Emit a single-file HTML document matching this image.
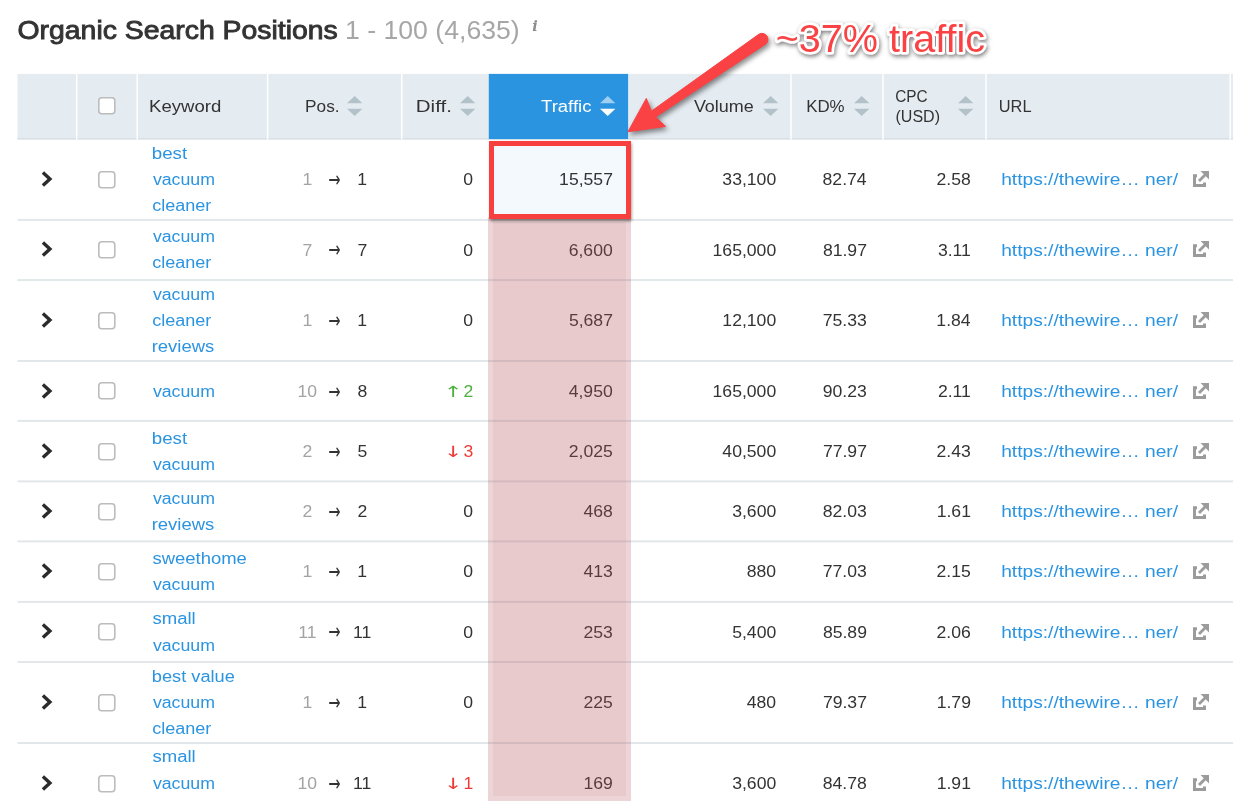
<!DOCTYPE html><html lang="en"><head><meta charset="utf-8"><title>Organic Search Positions</title><style>
*{box-sizing:border-box;margin:0;padding:0}
html,body{width:1233px;height:808px;overflow:hidden;background:#fff}
body{position:relative;font-family:"Liberation Sans",sans-serif;font-size:16px;color:#333;}
.abs{position:absolute}
.t{position:absolute;white-space:nowrap;line-height:20px;height:20px;transform-origin:0 0;display:block}
a{color:#2b94e1;text-decoration:none}
.g{color:#a3a3a3}
.up{color:#4bb03c}.down{color:#ee3a36}
.ar{font-family:"DejaVu Sans","Liberation Sans",sans-serif}
svg{position:absolute;overflow:visible}
.thead,.tr{position:absolute;left:0;top:0;width:0;height:0}
</style></head><body>
<h1 class="t" style="left:0;top:0;transform:translate(17.49px,15.00px) scaleX(1.0917);font-size:26px;line-height:30px;height:30px;color:#333;font-weight:normal;-webkit-text-stroke:0.9px #333;">Organic Search Positions</h1>
<div class="t" style="left:0;top:0;transform:translate(344.95px,15.00px) scaleX(1.0246);font-size:26px;line-height:30px;height:30px;color:#a6a6a6;">1 - 100 (4,635)</div>
<div class="t" style="left:532.2px;top:15.6px;font-size:14.5px;color:#8c8c8c;font-style:italic;font-family:'DejaVu Serif','Liberation Serif',serif;font-weight:bold">i</div>
<div class="thead"><svg style="left:0;top:0" width="1233" height="808" viewBox="0 0 1233 808"><rect x="17.5" y="73.9" width="1216" height="65.4" fill="#e4ebf1"/><rect x="17.5" y="138.3" width="1216" height="1.2" fill="#d3dbe1"/><rect x="75.95" y="73.5" width="1.5" height="66" fill="#fff"/><rect x="136.45" y="73.5" width="1.5" height="66" fill="#fff"/><rect x="266.85" y="73.5" width="1.5" height="66" fill="#fff"/><rect x="400.95" y="73.5" width="1.5" height="66" fill="#fff"/><rect x="790.25" y="73.5" width="1.5" height="66" fill="#fff"/><rect x="882.25" y="73.5" width="1.5" height="66" fill="#fff"/><rect x="985.25" y="73.5" width="1.5" height="66" fill="#fff"/><rect x="1229.45" y="73.5" width="1.5" height="66" fill="#fff"/><rect x="488.8" y="73.9" width="139.3" height="65.2" fill="#2b94e1"/></svg>
<svg style="left:98.2px;top:97.3px" width="17.6" height="17.6" viewBox="0 0 17.6 17.6"><rect x=".8" y=".8" width="16" height="16" rx="3" fill="#fff" stroke="#bcbcbc" stroke-width="1.6"/></svg>
<div class="t" style="left:0;top:0;transform:translate(149.09px,96.70px) scaleX(1.1583);">Keyword</div>
<div class="t" style="left:0;top:0;transform:translate(305.10px,96.70px) scaleX(1.0751);">Pos.</div><svg style="left:347px;top:96px" width="15.4" height="20" viewBox="0 0 15.4 20"><path d="M7.7 0 L15.4 7.2 L0 7.2 Z" fill="#b3c2c9"/><path d="M0 12.8 L15.4 12.8 L7.7 20 Z" fill="#b3c2c9"/></svg>
<div class="t" style="left:0;top:0;transform:translate(415.84px,96.70px) scaleX(1.2795);">Diff.</div><svg style="left:459.5px;top:96px" width="15.4" height="20" viewBox="0 0 15.4 20"><path d="M7.7 0 L15.4 7.2 L0 7.2 Z" fill="#b3c2c9"/><path d="M0 12.8 L15.4 12.8 L7.7 20 Z" fill="#b3c2c9"/></svg>
<div class="t" style="left:0;top:0;transform:translate(541.04px,96.70px) scaleX(1.1565);color:#fff;">Traffic</div><svg style="left:600px;top:96px" width="15.4" height="20" viewBox="0 0 15.4 20"><path d="M7.7 0 L15.4 7.2 L0 7.2 Z" fill="rgba(255,255,255,.55)"/><path d="M0 12.8 L15.4 12.8 L7.7 20 Z" fill="#fff"/></svg>
<div class="t" style="left:0;top:0;transform:translate(693.89px,96.70px) scaleX(1.1217);">Volume</div><svg style="left:762.5px;top:96px" width="15.4" height="20" viewBox="0 0 15.4 20"><path d="M7.7 0 L15.4 7.2 L0 7.2 Z" fill="#b3c2c9"/><path d="M0 12.8 L15.4 12.8 L7.7 20 Z" fill="#b3c2c9"/></svg>
<div class="t" style="left:0;top:0;transform:translate(806.13px,96.70px) scaleX(1.0549);">KD%</div><svg style="left:854px;top:96px" width="15.4" height="20" viewBox="0 0 15.4 20"><path d="M7.7 0 L15.4 7.2 L0 7.2 Z" fill="#b3c2c9"/><path d="M0 12.8 L15.4 12.8 L7.7 20 Z" fill="#b3c2c9"/></svg>
<div class="t" style="left:0;top:0;transform:translate(895.23px,86.60px) scaleX(0.9598);">CPC</div><div class="t" style="left:0;top:0;transform:translate(895.50px,106.60px) scaleX(1.0024);">(USD)</div><svg style="left:957.5px;top:96px" width="15.4" height="20" viewBox="0 0 15.4 20"><path d="M7.7 0 L15.4 7.2 L0 7.2 Z" fill="#b3c2c9"/><path d="M0 12.8 L15.4 12.8 L7.7 20 Z" fill="#b3c2c9"/></svg>
<div class="t" style="left:0;top:0;transform:translate(998.77px,96.70px) scaleX(1.0231);">URL</div>
</div>
<div class="tr">
<svg style="left:41.4px;top:171.00px" width="12" height="16" viewBox="0 0 12 16"><path d="M1.9 1.5 L8.9 8 L1.9 14.5" fill="none" stroke="#2b2b2b" stroke-width="3.4"/></svg>
<svg style="left:98.2px;top:170.80px" width="17.6" height="17.6" viewBox="0 0 17.6 17.6"><rect x=".8" y=".8" width="16" height="16" rx="3" fill="#fff" stroke="#bcbcbc" stroke-width="1.6"/></svg>
<a class="t" style="left:0;top:0;transform:translate(151.83px,143.70px) scaleX(1.1684);">best</a>
<a class="t" style="left:0;top:0;transform:translate(152.89px,170.00px) scaleX(1.1066);">vacuum</a>
<a class="t" style="left:0;top:0;transform:translate(152.21px,196.30px) scaleX(1.1262);">cleaner</a>
<div class="t g" style="left:0;top:0;transform:translate(302.38px,170.30px) scaleX(1.1000);">1</div>
<div class="t ar" style="left:327.7px;top:168.90px;font-size:15px;transform-origin:50% 50%;transform:scale(.97,1.5)">&rarr;</div>
<div class="t" style="left:0;top:0;transform:translate(357.19px,170.30px) scaleX(1.1000);">1</div>
<div class="t" style="left:0;top:0;transform:translate(463.37px,170.30px) scaleX(1.1000);">0</div>
<div class="t" style="left:0;top:0;transform:translate(722.37px,170.30px) scaleX(1.1000);">33,100</div>
<div class="t" style="left:0;top:0;transform:translate(822.55px,170.30px) scaleX(1.1000);">82.74</div>
<div class="t" style="left:0;top:0;transform:translate(936.56px,170.30px) scaleX(1.1000);">2.58</div>
<a class="t" style="left:0;top:0;transform:translate(1001.18px,170.30px) scaleX(1.1980);">https://thewire… ner/</a>
<svg style="left:1193px;top:171.10px" width="16" height="16" viewBox="0 0 16 16"><path d="M4 4.7 H1.5 V14.4 H11.5 V11.6" fill="none" stroke="#9b9b9b" stroke-width="3"/><path d="M7.6 0 H16 V8.4 Z" fill="#9b9b9b"/><path d="M13 3 L6 10" stroke="#9b9b9b" stroke-width="2.9" fill="none"/></svg>
</div>
<div class="tr">
<svg style="left:41.4px;top:241.25px" width="12" height="16" viewBox="0 0 12 16"><path d="M1.9 1.5 L8.9 8 L1.9 14.5" fill="none" stroke="#2b2b2b" stroke-width="3.4"/></svg>
<svg style="left:98.2px;top:241.05px" width="17.6" height="17.6" viewBox="0 0 17.6 17.6"><rect x=".8" y=".8" width="16" height="16" rx="3" fill="#fff" stroke="#bcbcbc" stroke-width="1.6"/></svg>
<a class="t" style="left:0;top:0;transform:translate(152.89px,227.10px) scaleX(1.1066);">vacuum</a>
<a class="t" style="left:0;top:0;transform:translate(152.21px,253.40px) scaleX(1.1262);">cleaner</a>
<div class="t g" style="left:0;top:0;transform:translate(302.61px,240.55px) scaleX(1.1000);">7</div>
<div class="t ar" style="left:327.7px;top:239.15px;font-size:15px;transform-origin:50% 50%;transform:scale(.97,1.5)">&rarr;</div>
<div class="t" style="left:0;top:0;transform:translate(357.41px,240.55px) scaleX(1.1000);">7</div>
<div class="t" style="left:0;top:0;transform:translate(463.37px,240.55px) scaleX(1.1000);">0</div>
<div class="t" style="left:0;top:0;transform:translate(568.66px,240.55px) scaleX(1.1000);">6,600</div>
<div class="t" style="left:0;top:0;transform:translate(712.58px,240.55px) scaleX(1.1000);">165,000</div>
<div class="t" style="left:0;top:0;transform:translate(822.88px,240.55px) scaleX(1.1000);">81.97</div>
<div class="t" style="left:0;top:0;transform:translate(937.88px,240.55px) scaleX(1.1000);">3.11</div>
<a class="t" style="left:0;top:0;transform:translate(1001.18px,240.55px) scaleX(1.1980);">https://thewire… ner/</a>
<svg style="left:1193px;top:241.35px" width="16" height="16" viewBox="0 0 16 16"><path d="M4 4.7 H1.5 V14.4 H11.5 V11.6" fill="none" stroke="#9b9b9b" stroke-width="3"/><path d="M7.6 0 H16 V8.4 Z" fill="#9b9b9b"/><path d="M13 3 L6 10" stroke="#9b9b9b" stroke-width="2.9" fill="none"/></svg>
</div>
<div class="tr">
<svg style="left:41.4px;top:312.00px" width="12" height="16" viewBox="0 0 12 16"><path d="M1.9 1.5 L8.9 8 L1.9 14.5" fill="none" stroke="#2b2b2b" stroke-width="3.4"/></svg>
<svg style="left:98.2px;top:311.80px" width="17.6" height="17.6" viewBox="0 0 17.6 17.6"><rect x=".8" y=".8" width="16" height="16" rx="3" fill="#fff" stroke="#bcbcbc" stroke-width="1.6"/></svg>
<a class="t" style="left:0;top:0;transform:translate(152.89px,284.70px) scaleX(1.1066);">vacuum</a>
<a class="t" style="left:0;top:0;transform:translate(152.21px,311.00px) scaleX(1.1262);">cleaner</a>
<a class="t" style="left:0;top:0;transform:translate(151.73px,337.30px) scaleX(1.1524);">reviews</a>
<div class="t g" style="left:0;top:0;transform:translate(302.38px,311.30px) scaleX(1.1000);">1</div>
<div class="t ar" style="left:327.7px;top:309.90px;font-size:15px;transform-origin:50% 50%;transform:scale(.97,1.5)">&rarr;</div>
<div class="t" style="left:0;top:0;transform:translate(357.19px,311.30px) scaleX(1.1000);">1</div>
<div class="t" style="left:0;top:0;transform:translate(463.37px,311.30px) scaleX(1.1000);">0</div>
<div class="t" style="left:0;top:0;transform:translate(568.88px,311.30px) scaleX(1.1000);">5,687</div>
<div class="t" style="left:0;top:0;transform:translate(722.37px,311.30px) scaleX(1.1000);">12,100</div>
<div class="t" style="left:0;top:0;transform:translate(822.77px,311.30px) scaleX(1.1000);">75.33</div>
<div class="t" style="left:0;top:0;transform:translate(936.34px,311.30px) scaleX(1.1000);">1.84</div>
<a class="t" style="left:0;top:0;transform:translate(1001.18px,311.30px) scaleX(1.1980);">https://thewire… ner/</a>
<svg style="left:1193px;top:312.10px" width="16" height="16" viewBox="0 0 16 16"><path d="M4 4.7 H1.5 V14.4 H11.5 V11.6" fill="none" stroke="#9b9b9b" stroke-width="3"/><path d="M7.6 0 H16 V8.4 Z" fill="#9b9b9b"/><path d="M13 3 L6 10" stroke="#9b9b9b" stroke-width="2.9" fill="none"/></svg>
</div>
<div class="tr">
<svg style="left:41.4px;top:382.62px" width="12" height="16" viewBox="0 0 12 16"><path d="M1.9 1.5 L8.9 8 L1.9 14.5" fill="none" stroke="#2b2b2b" stroke-width="3.4"/></svg>
<svg style="left:98.2px;top:382.43px" width="17.6" height="17.6" viewBox="0 0 17.6 17.6"><rect x=".8" y=".8" width="16" height="16" rx="3" fill="#fff" stroke="#bcbcbc" stroke-width="1.6"/></svg>
<a class="t" style="left:0;top:0;transform:translate(152.89px,381.62px) scaleX(1.1066);">vacuum</a>
<div class="t g" style="left:0;top:0;transform:translate(297.38px,381.93px) scaleX(1.1000);">10</div>
<div class="t ar" style="left:327.7px;top:380.53px;font-size:15px;transform-origin:50% 50%;transform:scale(.97,1.5)">&rarr;</div>
<div class="t" style="left:0;top:0;transform:translate(357.41px,381.93px) scaleX(1.1000);">8</div>
<div class="t ar up" style="left:446.8px;top:381.62px;font-size:15px;transform-origin:50% 50%;transform:scale(1.5,1.03)">&uarr;</div>
<div class="t up" style="left:0;top:0;transform:translate(463.59px,381.93px) scaleX(1.1000);">2</div>
<div class="t" style="left:0;top:0;transform:translate(568.66px,381.93px) scaleX(1.1000);">4,950</div>
<div class="t" style="left:0;top:0;transform:translate(712.58px,381.93px) scaleX(1.1000);">165,000</div>
<div class="t" style="left:0;top:0;transform:translate(822.77px,381.93px) scaleX(1.1000);">90.23</div>
<div class="t" style="left:0;top:0;transform:translate(937.88px,381.93px) scaleX(1.1000);">2.11</div>
<a class="t" style="left:0;top:0;transform:translate(1001.18px,381.93px) scaleX(1.1980);">https://thewire… ner/</a>
<svg style="left:1193px;top:382.73px" width="16" height="16" viewBox="0 0 16 16"><path d="M4 4.7 H1.5 V14.4 H11.5 V11.6" fill="none" stroke="#9b9b9b" stroke-width="3"/><path d="M7.6 0 H16 V8.4 Z" fill="#9b9b9b"/><path d="M13 3 L6 10" stroke="#9b9b9b" stroke-width="2.9" fill="none"/></svg>
</div>
<div class="tr">
<svg style="left:41.4px;top:442.75px" width="12" height="16" viewBox="0 0 12 16"><path d="M1.9 1.5 L8.9 8 L1.9 14.5" fill="none" stroke="#2b2b2b" stroke-width="3.4"/></svg>
<svg style="left:98.2px;top:442.55px" width="17.6" height="17.6" viewBox="0 0 17.6 17.6"><rect x=".8" y=".8" width="16" height="16" rx="3" fill="#fff" stroke="#bcbcbc" stroke-width="1.6"/></svg>
<a class="t" style="left:0;top:0;transform:translate(151.83px,428.60px) scaleX(1.1684);">best</a>
<a class="t" style="left:0;top:0;transform:translate(152.89px,454.90px) scaleX(1.1066);">vacuum</a>
<div class="t g" style="left:0;top:0;transform:translate(302.61px,442.05px) scaleX(1.1000);">2</div>
<div class="t ar" style="left:327.7px;top:440.65px;font-size:15px;transform-origin:50% 50%;transform:scale(.97,1.5)">&rarr;</div>
<div class="t" style="left:0;top:0;transform:translate(357.41px,442.05px) scaleX(1.1000);">5</div>
<div class="t ar down" style="left:446.8px;top:441.75px;font-size:15px;transform-origin:50% 50%;transform:scale(1.5,1.03)">&darr;</div>
<div class="t down" style="left:0;top:0;transform:translate(463.48px,442.05px) scaleX(1.1000);">3</div>
<div class="t" style="left:0;top:0;transform:translate(568.77px,442.05px) scaleX(1.1000);">2,025</div>
<div class="t" style="left:0;top:0;transform:translate(722.37px,442.05px) scaleX(1.1000);">40,500</div>
<div class="t" style="left:0;top:0;transform:translate(822.88px,442.05px) scaleX(1.1000);">77.97</div>
<div class="t" style="left:0;top:0;transform:translate(936.56px,442.05px) scaleX(1.1000);">2.43</div>
<a class="t" style="left:0;top:0;transform:translate(1001.18px,442.05px) scaleX(1.1980);">https://thewire… ner/</a>
<svg style="left:1193px;top:442.85px" width="16" height="16" viewBox="0 0 16 16"><path d="M4 4.7 H1.5 V14.4 H11.5 V11.6" fill="none" stroke="#9b9b9b" stroke-width="3"/><path d="M7.6 0 H16 V8.4 Z" fill="#9b9b9b"/><path d="M13 3 L6 10" stroke="#9b9b9b" stroke-width="2.9" fill="none"/></svg>
</div>
<div class="tr">
<svg style="left:41.4px;top:502.75px" width="12" height="16" viewBox="0 0 12 16"><path d="M1.9 1.5 L8.9 8 L1.9 14.5" fill="none" stroke="#2b2b2b" stroke-width="3.4"/></svg>
<svg style="left:98.2px;top:502.55px" width="17.6" height="17.6" viewBox="0 0 17.6 17.6"><rect x=".8" y=".8" width="16" height="16" rx="3" fill="#fff" stroke="#bcbcbc" stroke-width="1.6"/></svg>
<a class="t" style="left:0;top:0;transform:translate(152.89px,488.60px) scaleX(1.1066);">vacuum</a>
<a class="t" style="left:0;top:0;transform:translate(151.73px,514.90px) scaleX(1.1524);">reviews</a>
<div class="t g" style="left:0;top:0;transform:translate(302.61px,502.05px) scaleX(1.1000);">2</div>
<div class="t ar" style="left:327.7px;top:500.65px;font-size:15px;transform-origin:50% 50%;transform:scale(.97,1.5)">&rarr;</div>
<div class="t" style="left:0;top:0;transform:translate(357.41px,502.05px) scaleX(1.1000);">2</div>
<div class="t" style="left:0;top:0;transform:translate(463.37px,502.05px) scaleX(1.1000);">0</div>
<div class="t" style="left:0;top:0;transform:translate(583.40px,502.05px) scaleX(1.1000);">468</div>
<div class="t" style="left:0;top:0;transform:translate(732.16px,502.05px) scaleX(1.1000);">3,600</div>
<div class="t" style="left:0;top:0;transform:translate(822.77px,502.05px) scaleX(1.1000);">82.03</div>
<div class="t" style="left:0;top:0;transform:translate(936.67px,502.05px) scaleX(1.1000);">1.61</div>
<a class="t" style="left:0;top:0;transform:translate(1001.18px,502.05px) scaleX(1.1980);">https://thewire… ner/</a>
<svg style="left:1193px;top:502.85px" width="16" height="16" viewBox="0 0 16 16"><path d="M4 4.7 H1.5 V14.4 H11.5 V11.6" fill="none" stroke="#9b9b9b" stroke-width="3"/><path d="M7.6 0 H16 V8.4 Z" fill="#9b9b9b"/><path d="M13 3 L6 10" stroke="#9b9b9b" stroke-width="2.9" fill="none"/></svg>
</div>
<div class="tr">
<svg style="left:41.4px;top:562.92px" width="12" height="16" viewBox="0 0 12 16"><path d="M1.9 1.5 L8.9 8 L1.9 14.5" fill="none" stroke="#2b2b2b" stroke-width="3.4"/></svg>
<svg style="left:98.2px;top:562.72px" width="17.6" height="17.6" viewBox="0 0 17.6 17.6"><rect x=".8" y=".8" width="16" height="16" rx="3" fill="#fff" stroke="#bcbcbc" stroke-width="1.6"/></svg>
<a class="t" style="left:0;top:0;transform:translate(152.42px,548.77px) scaleX(1.1538);">sweethome</a>
<a class="t" style="left:0;top:0;transform:translate(152.89px,575.07px) scaleX(1.1066);">vacuum</a>
<div class="t g" style="left:0;top:0;transform:translate(302.38px,562.22px) scaleX(1.1000);">1</div>
<div class="t ar" style="left:327.7px;top:560.82px;font-size:15px;transform-origin:50% 50%;transform:scale(.97,1.5)">&rarr;</div>
<div class="t" style="left:0;top:0;transform:translate(357.19px,562.22px) scaleX(1.1000);">1</div>
<div class="t" style="left:0;top:0;transform:translate(463.37px,562.22px) scaleX(1.1000);">0</div>
<div class="t" style="left:0;top:0;transform:translate(583.40px,562.22px) scaleX(1.1000);">413</div>
<div class="t" style="left:0;top:0;transform:translate(746.79px,562.22px) scaleX(1.1000);">880</div>
<div class="t" style="left:0;top:0;transform:translate(822.77px,562.22px) scaleX(1.1000);">77.03</div>
<div class="t" style="left:0;top:0;transform:translate(936.56px,562.22px) scaleX(1.1000);">2.15</div>
<a class="t" style="left:0;top:0;transform:translate(1001.18px,562.22px) scaleX(1.1980);">https://thewire… ner/</a>
<svg style="left:1193px;top:563.02px" width="16" height="16" viewBox="0 0 16 16"><path d="M4 4.7 H1.5 V14.4 H11.5 V11.6" fill="none" stroke="#9b9b9b" stroke-width="3"/><path d="M7.6 0 H16 V8.4 Z" fill="#9b9b9b"/><path d="M13 3 L6 10" stroke="#9b9b9b" stroke-width="2.9" fill="none"/></svg>
</div>
<div class="tr">
<svg style="left:41.4px;top:623.40px" width="12" height="16" viewBox="0 0 12 16"><path d="M1.9 1.5 L8.9 8 L1.9 14.5" fill="none" stroke="#2b2b2b" stroke-width="3.4"/></svg>
<svg style="left:98.2px;top:623.20px" width="17.6" height="17.6" viewBox="0 0 17.6 17.6"><rect x=".8" y=".8" width="16" height="16" rx="3" fill="#fff" stroke="#bcbcbc" stroke-width="1.6"/></svg>
<a class="t" style="left:0;top:0;transform:translate(152.42px,609.25px) scaleX(1.1592);">small</a>
<a class="t" style="left:0;top:0;transform:translate(152.89px,635.55px) scaleX(1.1066);">vacuum</a>
<div class="t g" style="left:0;top:0;transform:translate(298.15px,622.70px) scaleX(1.1000);">11</div>
<div class="t ar" style="left:327.7px;top:621.30px;font-size:15px;transform-origin:50% 50%;transform:scale(.97,1.5)">&rarr;</div>
<div class="t" style="left:0;top:0;transform:translate(352.95px,622.70px) scaleX(1.1000);">11</div>
<div class="t" style="left:0;top:0;transform:translate(463.37px,622.70px) scaleX(1.1000);">0</div>
<div class="t" style="left:0;top:0;transform:translate(583.40px,622.70px) scaleX(1.1000);">253</div>
<div class="t" style="left:0;top:0;transform:translate(732.16px,622.70px) scaleX(1.1000);">5,400</div>
<div class="t" style="left:0;top:0;transform:translate(822.88px,622.70px) scaleX(1.1000);">85.89</div>
<div class="t" style="left:0;top:0;transform:translate(936.56px,622.70px) scaleX(1.1000);">2.06</div>
<a class="t" style="left:0;top:0;transform:translate(1001.18px,622.70px) scaleX(1.1980);">https://thewire… ner/</a>
<svg style="left:1193px;top:623.50px" width="16" height="16" viewBox="0 0 16 16"><path d="M4 4.7 H1.5 V14.4 H11.5 V11.6" fill="none" stroke="#9b9b9b" stroke-width="3"/><path d="M7.6 0 H16 V8.4 Z" fill="#9b9b9b"/><path d="M13 3 L6 10" stroke="#9b9b9b" stroke-width="2.9" fill="none"/></svg>
</div>
<div class="tr">
<svg style="left:41.4px;top:694.10px" width="12" height="16" viewBox="0 0 12 16"><path d="M1.9 1.5 L8.9 8 L1.9 14.5" fill="none" stroke="#2b2b2b" stroke-width="3.4"/></svg>
<svg style="left:98.2px;top:693.90px" width="17.6" height="17.6" viewBox="0 0 17.6 17.6"><rect x=".8" y=".8" width="16" height="16" rx="3" fill="#fff" stroke="#bcbcbc" stroke-width="1.6"/></svg>
<a class="t" style="left:0;top:0;transform:translate(151.86px,666.80px) scaleX(1.1376);">best value</a>
<a class="t" style="left:0;top:0;transform:translate(152.89px,693.10px) scaleX(1.1066);">vacuum</a>
<a class="t" style="left:0;top:0;transform:translate(152.21px,719.40px) scaleX(1.1262);">cleaner</a>
<div class="t g" style="left:0;top:0;transform:translate(302.38px,693.40px) scaleX(1.1000);">1</div>
<div class="t ar" style="left:327.7px;top:692.00px;font-size:15px;transform-origin:50% 50%;transform:scale(.97,1.5)">&rarr;</div>
<div class="t" style="left:0;top:0;transform:translate(357.19px,693.40px) scaleX(1.1000);">1</div>
<div class="t" style="left:0;top:0;transform:translate(463.37px,693.40px) scaleX(1.1000);">0</div>
<div class="t" style="left:0;top:0;transform:translate(583.40px,693.40px) scaleX(1.1000);">225</div>
<div class="t" style="left:0;top:0;transform:translate(746.79px,693.40px) scaleX(1.1000);">480</div>
<div class="t" style="left:0;top:0;transform:translate(822.88px,693.40px) scaleX(1.1000);">79.37</div>
<div class="t" style="left:0;top:0;transform:translate(936.67px,693.40px) scaleX(1.1000);">1.79</div>
<a class="t" style="left:0;top:0;transform:translate(1001.18px,693.40px) scaleX(1.1980);">https://thewire… ner/</a>
<svg style="left:1193px;top:694.20px" width="16" height="16" viewBox="0 0 16 16"><path d="M4 4.7 H1.5 V14.4 H11.5 V11.6" fill="none" stroke="#9b9b9b" stroke-width="3"/><path d="M7.6 0 H16 V8.4 Z" fill="#9b9b9b"/><path d="M13 3 L6 10" stroke="#9b9b9b" stroke-width="2.9" fill="none"/></svg>
</div>
<div class="tr">
<svg style="left:41.4px;top:774.75px" width="12" height="16" viewBox="0 0 12 16"><path d="M1.9 1.5 L8.9 8 L1.9 14.5" fill="none" stroke="#2b2b2b" stroke-width="3.4"/></svg>
<svg style="left:98.2px;top:774.55px" width="17.6" height="17.6" viewBox="0 0 17.6 17.6"><rect x=".8" y=".8" width="16" height="16" rx="3" fill="#fff" stroke="#bcbcbc" stroke-width="1.6"/></svg>
<a class="t" style="left:0;top:0;transform:translate(152.42px,747.45px) scaleX(1.1592);">small</a>
<a class="t" style="left:0;top:0;transform:translate(152.89px,773.75px) scaleX(1.1066);">vacuum</a>
<div class="t g" style="left:0;top:0;transform:translate(297.38px,774.05px) scaleX(1.1000);">10</div>
<div class="t ar" style="left:327.7px;top:772.65px;font-size:15px;transform-origin:50% 50%;transform:scale(.97,1.5)">&rarr;</div>
<div class="t" style="left:0;top:0;transform:translate(352.95px,774.05px) scaleX(1.1000);">11</div>
<div class="t ar down" style="left:446.8px;top:773.75px;font-size:15px;transform-origin:50% 50%;transform:scale(1.5,1.03)">&darr;</div>
<div class="t down" style="left:0;top:0;transform:translate(463.59px,774.05px) scaleX(1.1000);">1</div>
<div class="t" style="left:0;top:0;transform:translate(583.51px,774.05px) scaleX(1.1000);">169</div>
<div class="t" style="left:0;top:0;transform:translate(732.16px,774.05px) scaleX(1.1000);">3,600</div>
<div class="t" style="left:0;top:0;transform:translate(822.77px,774.05px) scaleX(1.1000);">84.78</div>
<div class="t" style="left:0;top:0;transform:translate(936.67px,774.05px) scaleX(1.1000);">1.91</div>
<a class="t" style="left:0;top:0;transform:translate(1001.18px,774.05px) scaleX(1.1980);">https://thewire… ner/</a>
<svg style="left:1193px;top:774.85px" width="16" height="16" viewBox="0 0 16 16"><path d="M4 4.7 H1.5 V14.4 H11.5 V11.6" fill="none" stroke="#9b9b9b" stroke-width="3"/><path d="M7.6 0 H16 V8.4 Z" fill="#9b9b9b"/><path d="M13 3 L6 10" stroke="#9b9b9b" stroke-width="2.9" fill="none"/></svg>
</div>
<svg style="left:0;top:0" width="1233" height="808" viewBox="0 0 1233 808"><rect x="17.5" y="218.9" width="1216" height="2" fill="#e2e7ea"/><rect x="17.5" y="279.1" width="1216" height="2" fill="#e2e7ea"/><rect x="17.5" y="360.0" width="1216" height="2" fill="#e2e7ea"/><rect x="17.5" y="419.9" width="1216" height="2" fill="#e2e7ea"/><rect x="17.5" y="480.4" width="1216" height="2" fill="#e2e7ea"/><rect x="17.5" y="540.4" width="1216" height="2" fill="#e2e7ea"/><rect x="17.5" y="600.9" width="1216" height="2" fill="#e2e7ea"/><rect x="17.5" y="661.0" width="1216" height="2" fill="#e2e7ea"/><rect x="17.5" y="742.0" width="1216" height="2" fill="#e2e7ea"/></svg>
<div class="abs" style="left:488px;top:217px;width:143px;height:583.6px;border:5.5px solid rgba(178,78,88,.24);background:rgba(178,78,88,.3);background-clip:padding-box;filter:blur(.5px)"></div>
<div class="abs" style="left:488.5px;top:140.7px;width:142.5px;height:78.1px;border:5.1px solid #f8403e;background:#f4f9fd;box-shadow:0.5px 2px 3px rgba(0,0,0,.45)"></div>
<div class="t" style="left:0;top:0;transform:translate(559.09px,170.30px) scaleX(1.1000);">15,557</div>
<svg style="left:0;top:0;filter:drop-shadow(2px 3px 2.5px rgba(0,0,0,.45))" width="1233" height="808" viewBox="0 0 1233 808"><path d="M759.1 34.1 L651.5 111.1 L646.3 98.4 L628.0 131.7 L665.6 126.4 L655.6 117.1 L765.9 43.9 A6 6 0 0 0 759.1 34.1 Z" fill="#fa4143" stroke="#fa4143" stroke-width="1" stroke-linejoin="round"/></svg>
<svg style="left:0;top:0;filter:drop-shadow(1.5px 2.5px 2px rgba(0,0,0,.5))" width="1233" height="808" viewBox="0 0 1233 808"><text x="775.7" y="52" font-family="Liberation Sans, sans-serif" font-size="39.6" fill="#fa4143" stroke="#fff" stroke-width="5.5" stroke-linejoin="round" paint-order="stroke">~37% traffic</text></svg>
</body></html>
